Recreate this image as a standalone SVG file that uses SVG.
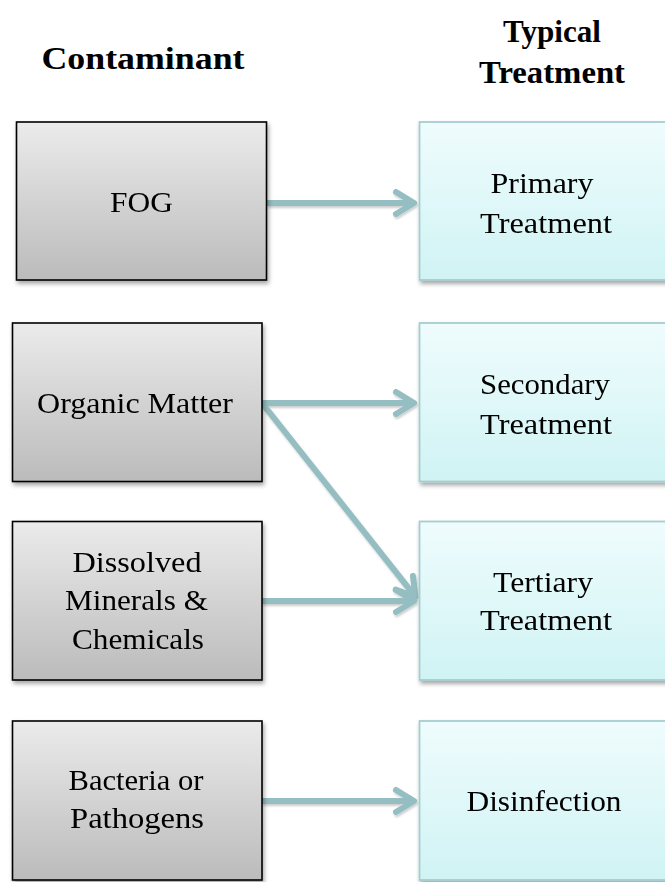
<svg xmlns="http://www.w3.org/2000/svg" width="665" height="882" viewBox="0 0 665 882">
<style>
.txt{font-family:"Liberation Serif","DejaVu Serif",serif;font-size:30px;fill:#000;text-anchor:middle}
.hdr{font-family:"Liberation Serif","DejaVu Serif",serif;font-size:32px;font-weight:bold;fill:#000;text-anchor:middle}
.lbox{fill:url(#gGray);stroke:#000;stroke-width:1.6}
.rbox{fill:url(#gCyan);stroke:#a6cdd0;stroke-width:1.8}
.conn{stroke:#94bec1;stroke-width:6;fill:none;marker-end:url(#arr)}
</style>
<defs>
<linearGradient id="gGray" x1="0" y1="0" x2="0" y2="1">
<stop offset="0" stop-color="#ebebeb"/>
<stop offset="1" stop-color="#bbbbbb"/>
</linearGradient>
<linearGradient id="gCyan" x1="0" y1="0" x2="0" y2="1">
<stop offset="0" stop-color="#effcfd"/>
<stop offset="1" stop-color="#d0f3f4"/>
</linearGradient>
<filter id="sh" x="-10%" y="-10%" width="130%" height="130%">
<feDropShadow dx="1.5" dy="3" stdDeviation="2" flood-color="#000" flood-opacity="0.35"/>
</filter>
<filter id="ash" x="-10%" y="-20%" width="130%" height="150%">
<feDropShadow dx="1" dy="2" stdDeviation="1.2" flood-color="#000" flood-opacity="0.2"/>
</filter>
<marker id="arr" markerUnits="userSpaceOnUse" markerWidth="40" markerHeight="40" refX="0" refY="0" viewBox="-25 -20 30 40" orient="auto">
<path d="M-18,-11 L0,0 L-18,11" fill="none" stroke="#94bec1" stroke-width="6" stroke-linecap="round" stroke-linejoin="round"/>
</marker>
</defs>
<rect width="665" height="882" fill="#fff"/>

<g id="headers">
<text class="hdr" x="143" y="69" textLength="203" lengthAdjust="spacingAndGlyphs">Contaminant</text>
<text class="hdr" x="552" y="42" textLength="98" lengthAdjust="spacingAndGlyphs">Typical</text>
<text class="hdr" x="552" y="83" textLength="146" lengthAdjust="spacingAndGlyphs">Treatment</text>
</g>

<g id="connectors" filter="url(#ash)">
<line class="conn" x1="267" y1="203" x2="414" y2="203"/>
<line class="conn" x1="262" y1="403" x2="414" y2="403"/>
<line class="conn" x1="262" y1="403" x2="415.5" y2="596.8"/>
<line class="conn" x1="262" y1="601" x2="414" y2="601"/>
<line class="conn" x1="262" y1="801" x2="414" y2="801"/>
</g>

<g id="fog" filter="url(#sh)">
<rect class="lbox" x="16.5" y="122" width="250" height="158"/>
<text class="txt" x="141.5" y="212" textLength="63" lengthAdjust="spacingAndGlyphs">FOG</text>
</g>
<g id="organic" filter="url(#sh)">
<rect class="lbox" x="12.5" y="323" width="249.5" height="158.5"/>
<text class="txt" x="135" y="413" textLength="196" lengthAdjust="spacingAndGlyphs">Organic Matter</text>
</g>
<g id="dissolved" filter="url(#sh)">
<rect class="lbox" x="12.5" y="521.5" width="249.5" height="158.5"/>
<text class="txt" x="137" y="572" textLength="129" lengthAdjust="spacingAndGlyphs">Dissolved</text>
<text class="txt" x="136.5" y="610" textLength="143" lengthAdjust="spacingAndGlyphs">Minerals &amp;</text>
<text class="txt" x="138" y="649" textLength="132" lengthAdjust="spacingAndGlyphs">Chemicals</text>
</g>
<g id="bacteria" filter="url(#sh)">
<rect class="lbox" x="12.5" y="721" width="249.5" height="159"/>
<text class="txt" x="136" y="790" textLength="135" lengthAdjust="spacingAndGlyphs">Bacteria or</text>
<text class="txt" x="137" y="828" textLength="134" lengthAdjust="spacingAndGlyphs">Pathogens</text>
</g>

<g id="primary" filter="url(#sh)">
<rect class="rbox" x="419.5" y="122" width="260" height="158"/>
<text class="txt" x="542" y="193" textLength="103" lengthAdjust="spacingAndGlyphs">Primary</text>
<text class="txt" x="546" y="233" textLength="132" lengthAdjust="spacingAndGlyphs">Treatment</text>
</g>
<g id="secondary" filter="url(#sh)">
<rect class="rbox" x="419.5" y="323" width="260" height="158.5"/>
<text class="txt" x="545" y="394" textLength="130" lengthAdjust="spacingAndGlyphs">Secondary</text>
<text class="txt" x="546" y="434" textLength="132" lengthAdjust="spacingAndGlyphs">Treatment</text>
</g>
<g id="tertiary" filter="url(#sh)">
<rect class="rbox" x="419.5" y="521.5" width="260" height="158.5"/>
<text class="txt" x="543" y="592" textLength="100" lengthAdjust="spacingAndGlyphs">Tertiary</text>
<text class="txt" x="546" y="630" textLength="132" lengthAdjust="spacingAndGlyphs">Treatment</text>
</g>
<g id="disinfection" filter="url(#sh)">
<rect class="rbox" x="419.5" y="721" width="260" height="159"/>
<text class="txt" x="544" y="811" textLength="155" lengthAdjust="spacingAndGlyphs">Disinfection</text>
</g>
</svg>
